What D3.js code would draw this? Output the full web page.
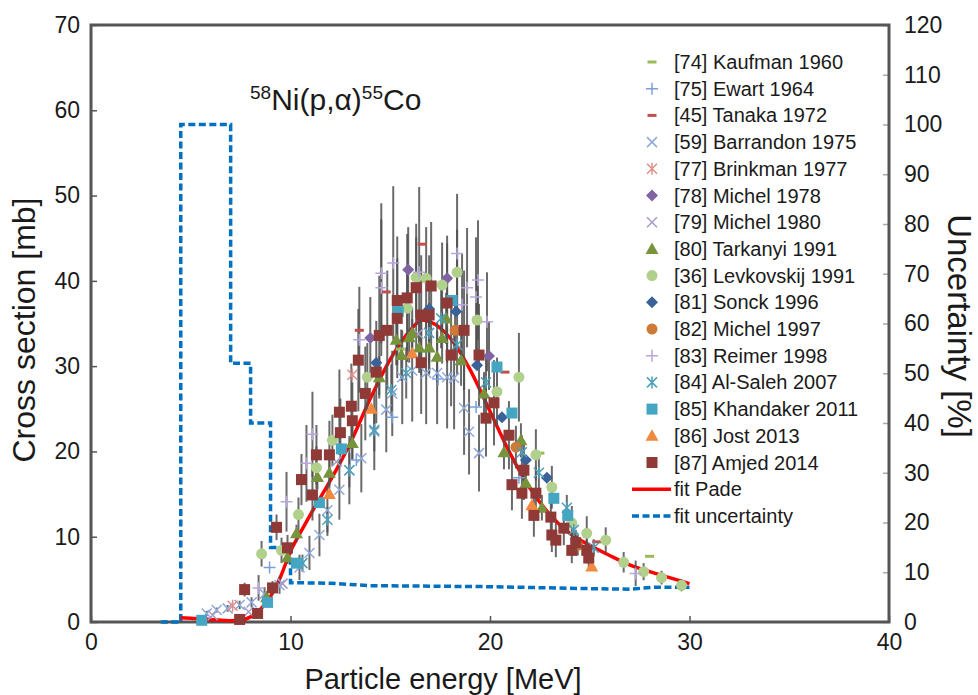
<!DOCTYPE html>
<html>
<head>
<meta charset="utf-8">
<script src="https://cdn.jsdelivr.net/npm/d3@7"></script>
<style>
  body { margin: 0; background: #fff; }
  text { font-family: "Liberation Sans", Arial, sans-serif; fill: #1a1a1a; }
</style>
</head>
<body>
<div id="chart"></div>
<script>
// ---- data: [energy MeV, cross section mb, error mb] ----
const kaufman1960 = [[15.5, 32.0], [22.5, 19.8], [28.0, 7.7]];
const ewart1964 = [[8.95, 6.4], [13.3, 19.0], [15.1, 24.0], [17.4, 28.5], [19.3, 25.2], [21.45, 16.9]];
const tanaka1972 = [[13.45, 34.2], [14.8, 38.7], [16.6, 44.3], [20.75, 29.3], [25.35, 9.4]];
const barrandon1975 = [[5.8, 1.0, 0.3], [6.3, 1.4, 0.3], [6.85, 1.6, 0.4], [7.45, 2.0, 0.5], [8.05, 2.3, 0.6],
  [8.7, 3.3, 0.8], [9.45, 4.3, 1.0], [10.45, 6.4, 1.5], [10.95, 8.1, 2.0], [11.45, 10.2, 2.5], [11.85, 13.1, 3.0],
  [12.45, 15.5, 3.5], [12.95, 17.8, 4.0], [13.55, 19.2, 4.0], [14.2, 22.3, 4.5], [14.8, 24.9, 5.0], [15.1, 26.8, 5.0],
  [15.6, 28.7, 5.5], [16.1, 29.5, 6.0], [16.8, 29.2, 6.0], [17.35, 29.2, 6.0], [17.85, 28.7, 6.0], [18.2, 28.6, 6.0],
  [18.7, 25.1, 5.5], [18.95, 22.3, 5.0], [19.45, 19.8, 4.5]];
const brinkman1977 = [[7.1, 1.9], [13.1, 29.0]];
const michel1978 = [[14.0, 33.3, 4.8], [15.9, 41.3, 5.0], [17.85, 40.3, 5.0], [19.95, 31.2, 4.0]];
const michel1980 = [[6.1, 0.8], [7.9, 1.2], [9.6, 4.5], [12.3, 18.8], [16.4, 33.8]];
const tarkanyi1991 = [[8.8, 2.9, 0.4], [9.85, 7.6, 0.8], [10.3, 10.4, 1.0], [11.35, 17.0, 1.5], [11.95, 17.5, 1.5],
  [13.1, 21.0, 2.0], [14.45, 28.7, 2.5], [15.3, 33.1, 3.0], [15.55, 31.3, 3.0], [15.95, 33.4, 3.0], [16.1, 33.9, 3.0],
  [16.45, 32.2, 3.0], [16.95, 32.2, 3.0], [17.35, 31.1, 3.0], [17.6, 33.3, 3.0], [17.8, 35.6, 3.0], [18.55, 30.7, 3.0],
  [19.7, 26.8, 2.5], [20.7, 19.9, 2.0], [21.55, 21.3, 2.0], [21.8, 16.3, 1.5], [22.6, 13.4, 1.5]];
const levkovskij1991 = [[8.55, 8.0, 1.5], [9.55, 8.4, 1.5], [10.4, 12.6, 2.0], [11.3, 18.1, 2.5], [12.1, 21.3, 3.0],
  [13.85, 28.7, 4.0], [15.85, 36.8, 5.0], [16.3, 40.4, 4.7], [16.8, 40.3, 6.0], [17.6, 39.5, 5.0], [18.35, 41.0, 5.0],
  [19.35, 35.4, 5.0], [20.35, 27.0, 4.0], [21.45, 28.7, 5.2], [22.3, 19.6, 3.0], [23.1, 15.8, 2.5], [24.1, 11.6, 2.0],
  [24.85, 10.4, 2.0], [25.8, 9.6, 1.5], [26.7, 7.0, 1.2], [27.7, 5.9, 1.0], [28.6, 5.2, 0.8], [29.6, 4.3, 0.7]];
const sonck1996 = [[14.3, 30.4], [16.95, 36.7], [18.3, 36.4], [19.35, 30.1], [20.6, 24.0], [21.8, 19.0], [22.85, 16.9]];
const michel1997 = [[18.25, 34.2, 3.5], [21.3, 20.5, 2.5], [24.4, 9.0, 1.2]];
const reimer1998 = [[8.4, 4.0, 1.5], [9.8, 14.1, 3.5], [10.8, 18.6, 4.5], [11.1, 22.0, 5.0], [13.45, 33.1, 6.2],
  [14.55, 39.2, 8.0], [14.55, 40.9, 8.2], [15.15, 42.1, 9.0], [16.45, 41.0, 10.0], [18.35, 43.2, 7.0], [18.6, 37.2, 6.0],
  [18.85, 39.2, 7.0], [19.3, 38.1, 7.0], [19.4, 40.1, 7.0], [19.85, 35.2, 5.8], [27.3, 5.7, 1.5]];
const alSaleh2007 = [[10.6, 6.9, 1.0], [11.85, 12.0, 1.5], [12.95, 17.8, 2.0], [14.2, 22.5, 2.5], [15.05, 27.2, 3.0],
  [15.8, 29.2, 3.0], [16.95, 33.9, 3.5], [17.55, 35.6, 3.5], [18.35, 32.5, 3.5], [19.8, 28.1, 3.0], [21.6, 19.9, 2.0],
  [22.45, 17.5, 2.0], [23.85, 13.4, 1.5], [24.2, 10.8, 1.2], [25.2, 8.7, 1.0]];
const khandaker2011 = [[5.55, 0.2], [8.85, 2.3], [10.3, 6.9], [11.45, 14.0], [12.55, 20.3], [15.4, 36.4],
  [18.1, 37.7], [20.35, 29.9], [21.1, 24.5], [23.2, 14.5], [23.9, 12.5]];
const jost2013 = [[11.95, 15.0], [14.05, 25.0], [16.1, 31.5], [22.1, 13.7], [25.1, 6.5]];
const amjed2014 = [[7.45, 0.3, 0.3], [7.7, 3.8, 0.8], [8.35, 1.0, 0.3], [9.1, 4.0, 0.8], [9.3, 11.1, 1.5],
  [9.85, 8.7, 1.5], [10.55, 16.7, 3.0], [11.1, 14.9, 3.0], [11.3, 19.6, 3.5], [11.95, 19.6, 4.0], [12.5, 22.2, 4.0],
  [12.45, 24.6, 5.0], [13.05, 25.3, 5.0], [13.1, 23.6, 4.5], [13.4, 30.7, 6.0], [13.75, 26.8, 5.5], [14.3, 29.3, 6.0],
  [14.45, 33.6, 7.0], [14.85, 34.2, 7.0], [15.35, 35.6, 7.0], [15.35, 37.7, 7.5], [15.85, 38.0, 7.5], [16.3, 39.2, 7.5],
  [16.55, 36.0, 7.0], [16.55, 30.4, 6.0], [16.95, 36.0, 7.0], [17.05, 39.4, 7.5], [17.85, 37.4, 7.0], [18.05, 31.3, 6.0],
  [18.7, 34.2, 7.0], [19.45, 31.3, 6.0], [19.8, 23.9, 4.5], [20.2, 25.7, 5.0], [20.95, 21.9, 4.0], [21.1, 16.1, 3.0],
  [21.6, 15.1, 3.0], [21.7, 17.8, 3.5], [22.2, 12.5, 2.5], [22.3, 15.1, 3.0], [23.05, 12.3, 2.5], [23.1, 10.2, 2.0],
  [23.3, 9.6, 2.0], [23.7, 11.0, 2.0], [24.1, 8.4, 1.5], [24.3, 9.3, 1.5], [24.85, 8.4, 1.5], [24.95, 7.5, 1.5]];

// fit curves
const fitEnergy = [4.5, 5, 6, 7, 7.5, 8, 8.5, 9, 9.5, 10, 10.5, 11, 12, 13, 14, 15, 16, 16.6, 17, 18, 19, 20,
  21, 22, 23, 24, 25, 26, 27, 28, 29, 30];
const fitPade = [0.5, 0.45, 0.3, 0.15, 0.2, 0.6, 1.5, 3.0, 5.3, 8.3, 10.5, 12.6, 16.6, 21.0, 26.2, 30.8, 34.2, 35.4,
  35.2, 33.3, 29.6, 24.7, 19.8, 15.7, 12.6, 10.4, 9.0, 7.8, 6.7, 5.9, 5.2, 4.5];
const uncEnergy = [3.5, 4.5, 4.5, 7, 7, 8, 8, 9, 9, 10, 10, 12, 14, 20, 25, 27, 28.3, 30];
const uncPercent = [0, 0, 100, 100, 52, 52, 40, 40, 15, 15, 7.9, 7.8, 7.3, 7.1, 6.7, 6.6, 7.0, 7.0];

const seriesNames = ["[74] Kaufman 1960", "[75] Ewart 1964", "[45] Tanaka 1972", "[59] Barrandon 1975",
  "[77] Brinkman 1977", "[78] Michel 1978", "[79] Michel 1980", "[80] Tarkanyi 1991", "[36] Levkovskij 1991",
  "[81] Sonck 1996", "[82] Michel 1997", "[83] Reimer 1998", "[84] Al-Saleh 2007", "[85] Khandaker 2011",
  "[86] Jost 2013", "[87] Amjed 2014"];
const seriesData = [kaufman1960, ewart1964, tanaka1972, barrandon1975, brinkman1977, michel1978, michel1980,
  tarkanyi1991, levkovskij1991, sonck1996, michel1997, reimer1998, alSaleh2007, khandaker2011, jost2013, amjed2014];
const seriesShapes = ["dash", "plus", "dash", "x", "star", "diamond", "x", "triangle", "circle", "diamond",
  "circle", "plus", "star", "square", "triangle", "square"];
const seriesColors = ["#9bbb59", "#7a9fd8", "#c0504d", "#8fa9d9", "#e0908c", "#8064a2", "#a99bc7", "#77933c",
  "#b0d08c", "#3a6299", "#cc7a36", "#b7a7d9", "#4f9fb8", "#45a6c4", "#f0893e", "#8f3a37"];

const xTicks = [0, 10, 20, 30, 40];
const yTicks = [0, 10, 20, 30, 40, 50, 60, 70];
const yRightTicks = [0, 10, 20, 30, 40, 50, 60, 70, 80, 90, 100, 110, 120];

// ---- layout ----
const margin = {top: 25, right: 89, bottom: 73, left: 91},
  width = 978 - margin.left - margin.right,
  height = 695 - margin.top - margin.bottom;

const svgRoot = d3.select("#chart").append("svg")
  .attr("width", 978)
  .attr("height", 695);
const svg = svgRoot.append("g")
  .attr("transform", `translate(${margin.left},${margin.top})`);

const x = d3.scaleLinear().domain([0, 40]).range([0, width]);
const y = d3.scaleLinear().domain([0, 70]).range([height, 0]);
const yR = d3.scaleLinear().domain([0, 120]).range([height, 0]);

// axes, ticks point inward
const xAxis = svg.append("g")
  .attr("transform", `translate(0,${height})`)
  .call(d3.axisBottom(x).tickValues(xTicks).tickSize(-6).tickPadding(12));
const yAxis = svg.append("g")
  .call(d3.axisLeft(y).tickValues(yTicks).tickSize(-6).tickPadding(11));
const yAxisR = svg.append("g")
  .attr("transform", `translate(${width},0)`)
  .call(d3.axisRight(yR).tickValues(yRightTicks).tickSize(-6).tickPadding(15));

[xAxis, yAxis, yAxisR].forEach(a => {
  a.select(".domain").remove();
  a.selectAll("text").style("font-size", "23px").style("font-family", "'Liberation Sans', Arial, sans-serif")
    .attr("fill", "#1a1a1a");
  a.selectAll("line").attr("stroke", "#555").attr("stroke-width", 1.5);
});
yAxisR.selectAll("line").attr("stroke", "#aaa");

// frame
svg.append("rect")
  .attr("width", width)
  .attr("height", height)
  .attr("fill", "none")
  .attr("stroke", "#555")
  .attr("stroke-width", 3);

// axis titles
svgRoot.append("text")
  .attr("x", 443)
  .attr("y", 689)
  .attr("text-anchor", "middle")
  .style("font-size", "29px")
  .text("Particle energy [MeV]");

svgRoot.append("text")
  .attr("transform", `translate(35,330) rotate(-90)`)
  .attr("text-anchor", "middle")
  .style("font-size", "32px")
  .text("Cross section [mb]");

svgRoot.append("text")
  .attr("transform", `translate(948,326) rotate(90)`)
  .attr("text-anchor", "middle")
  .style("font-size", "33px")
  .text("Uncertainty [%]");

// reaction label
const title = svgRoot.append("text")
  .attr("x", 250)
  .attr("y", 110)
  .style("font-size", "30px");
title.append("tspan").attr("dy", -11).style("font-size", "19px").text("58");
title.append("tspan").attr("dy", 11).text("Ni(p,α)");
title.append("tspan").attr("dy", -11).style("font-size", "19px").text("55");
title.append("tspan").attr("dy", 11).text("Co");

// fit uncertainty (right axis)
const uncLine = d3.line()
  .x((d, i) => x(uncEnergy[i]))
  .y(d => yR(d));
svg.append("path")
  .datum(uncPercent)
  .attr("d", uncLine)
  .attr("fill", "none")
  .attr("stroke", "#0070c0")
  .attr("stroke-width", 3.5)
  .attr("stroke-dasharray", "7,3.5");

// fit Pade
const fitLine = d3.line()
  .x((d, i) => x(fitEnergy[i]))
  .y(d => y(d))
  .curve(d3.curveMonotoneX);
svg.append("path")
  .datum(fitPade)
  .attr("d", fitLine)
  .attr("fill", "none")
  .attr("stroke", "#ff0000")
  .attr("stroke-width", 3.5);

// error bars
seriesData.forEach(data => {
  svg.append("g")
    .selectAll("line")
    .data(data.filter(d => d[2]))
    .enter().append("line")
    .attr("x1", d => x(d[0]))
    .attr("x2", d => x(d[0]))
    .attr("y1", d => y(d[1] - d[2]))
    .attr("y2", d => y(d[1] + d[2]))
    .attr("stroke", "#505050")
    .attr("stroke-opacity", 0.85)
    .attr("stroke-width", 2);
});

// marker shapes
function drawMarker(g, shape, colour) {
  if (shape === "square") {
    g.append("rect").attr("x", -5.5).attr("y", -5.5).attr("width", 11).attr("height", 11).attr("fill", colour);
  } else if (shape === "circle") {
    g.append("circle").attr("r", 5.5).attr("fill", colour);
  } else if (shape === "triangle") {
    g.append("path").attr("d", "M0,-6.5L6.5,5L-6.5,5Z").attr("fill", colour);
  } else if (shape === "diamond") {
    g.append("path").attr("d", "M0,-6L6,0L0,6L-6,0Z").attr("fill", colour);
  } else if (shape === "dash") {
    g.append("rect").attr("x", -4.5).attr("y", -1.5).attr("width", 9).attr("height", 3).attr("fill", colour);
  } else if (shape === "plus") {
    g.append("path").attr("d", "M-6,0H6M0,-6V6").attr("stroke", colour).attr("stroke-width", 1.5);
  } else if (shape === "x") {
    g.append("path").attr("d", "M-5,-5L5,5M-5,5L5,-5").attr("stroke", colour).attr("stroke-width", 1.5);
  } else if (shape === "star") {
    g.append("path").attr("d", "M-5,-5L5,5M-5,5L5,-5M0,-6V6").attr("stroke", colour).attr("stroke-width", 1.5);
  }
}

seriesData.forEach((data, i) => {
  svg.append("g")
    .selectAll("g")
    .data(data)
    .enter().append("g")
    .attr("transform", d => `translate(${x(d[0])},${y(d[1])})`)
    .each(function () { drawMarker(d3.select(this), seriesShapes[i], seriesColors[i]); });
});

// legend
const legendNames = seriesNames.concat(["fit Pade", "fit uncertainty"]);
const legend = svgRoot.selectAll(".legend")
  .data(legendNames)
  .enter().append("g")
  .attr("class", "legend")
  .attr("transform", (d, i) => `translate(652,${62 + i * 26.7})`);

legend.each(function (d, i) {
  const g = d3.select(this);
  if (i < seriesNames.length) {
    drawMarker(g, seriesShapes[i], seriesColors[i]);
  } else {
    g.append("line")
      .attr("x1", -20).attr("x2", 19)
      .attr("stroke", i === seriesNames.length ? "#ff0000" : "#0070c0")
      .attr("stroke-width", 3.5)
      .attr("stroke-dasharray", i === seriesNames.length ? null : "7,3.5");
  }
});

legend.append("text")
  .attr("x", 22)
  .attr("y", 7)
  .style("font-size", "20px")
  .text(d => d);
</script>
</body>
</html>
